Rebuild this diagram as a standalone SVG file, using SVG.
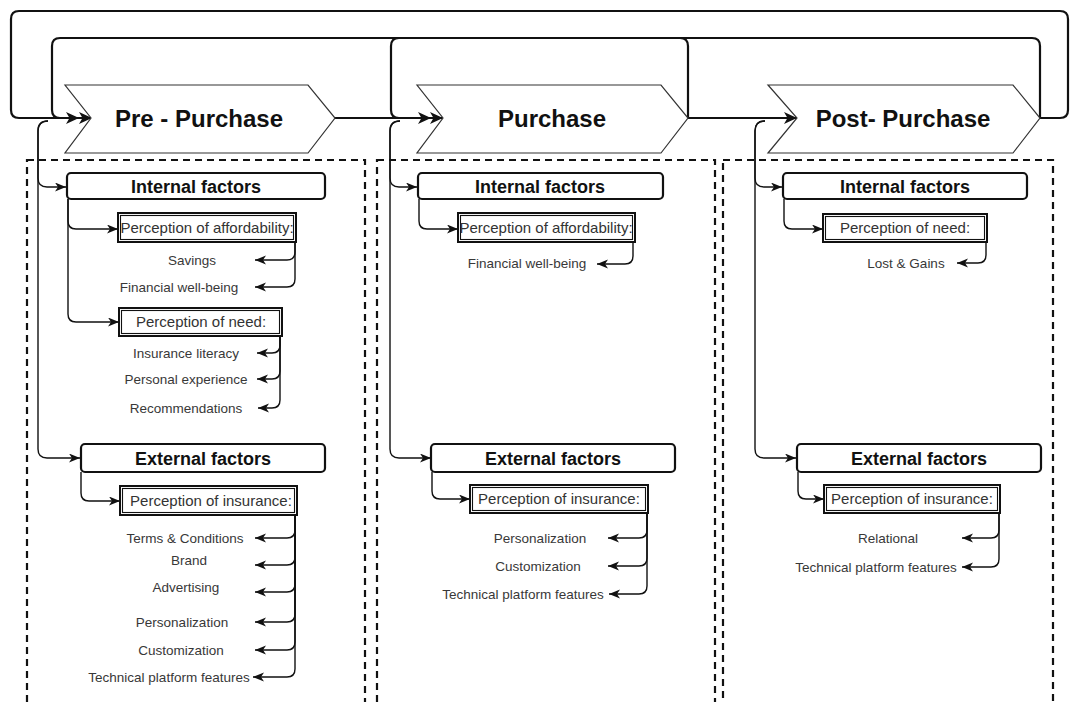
<svg xmlns="http://www.w3.org/2000/svg" width="1073" height="702" viewBox="0 0 1073 702">
<style>
.bg{fill:#fff}
.chev{fill:#fff;stroke:#333;stroke-width:1.2}
.stage{font-family:"Liberation Sans",Arial,sans-serif;font-size:24px;font-weight:bold;fill:#111;text-anchor:middle}
.dash{fill:none;stroke:#111;stroke-width:2.2;stroke-dasharray:7,5}
.hdr{fill:#fff;stroke:#111;stroke-width:2.2}
.hdrt{font-family:"Liberation Sans",Arial,sans-serif;font-size:18px;font-weight:bold;fill:#111;text-anchor:middle}
.pbox{fill:#fff;stroke:#111;stroke-width:2}
.pin{fill:none;stroke:#111;stroke-width:1.1}
.pt{font-family:"Liberation Sans",Arial,sans-serif;font-size:15px;fill:#333;text-anchor:middle}
.lbl{font-family:"Liberation Sans",Arial,sans-serif;font-size:13.5px;fill:#383838;text-anchor:middle}
.loop{fill:none;stroke:#111;stroke-width:2.2}
.con{fill:none;stroke:#111;stroke-width:1.4}
</style>
<defs>
<marker id="big" markerUnits="userSpaceOnUse" markerWidth="14" markerHeight="12" refX="13" refY="6" orient="auto">
<path d="M0,0 L13,6 L0,12 L3.5,6 z" fill="#111"/>
</marker>
<marker id="sm" markerUnits="userSpaceOnUse" markerWidth="12" markerHeight="10" refX="11" refY="4.5" orient="auto">
<path d="M0,0 L11,4.5 L0,9 L3,4.5 z" fill="#111"/>
</marker>
</defs>
<rect class="bg" x="0" y="0" width="1073" height="702"/>

<g id="containers">
<rect class="dash" x="27" y="160" width="338" height="545"/>
<rect class="dash" x="377" y="160" width="338" height="545"/>
<rect class="dash" x="723" y="160" width="330" height="545"/>
</g>

<g id="connectors">
<path class="loop" d="M1040,118 H1060 Q1068,118 1068,110 V19 Q1068,11 1060,11 H19 Q11,11 11,19 V110 Q11,118 19,118 H79" marker-end="url(#big)"/>
<path class="loop" d="M1040,118 V46 Q1040,38 1032,38 H60 Q52,38 52,46 V110 Q52,118 60,118 H92" marker-end="url(#big)"/>
<path class="loop" d="M335,118 H443" marker-end="url(#big)"/>
<path class="loop" d="M688,118 V46 Q688,38 680,38 H399 Q391,38 391,46 V110 Q391,118 399,118 H431" marker-end="url(#big)"/>
<path class="loop" d="M688,118 H797" marker-end="url(#big)"/>

<path class="con" d="M48,121 Q38,121 38,131 V178 Q38,187 47,187 H66" marker-end="url(#sm)"/>
<path class="con" d="M48,121 Q38,121 38,131 V449 Q38,458 47,458 H80" marker-end="url(#sm)"/>
<path class="con" d="M400,121 Q390,121 390,131 V178 Q390,187 399,187 H417" marker-end="url(#sm)"/>
<path class="con" d="M400,121 Q390,121 390,131 V449 Q390,458 399,458 H431" marker-end="url(#sm)"/>
<path class="con" d="M765,121 Q755,121 755,131 V178 Q755,187 764,187 H782" marker-end="url(#sm)"/>
<path class="con" d="M765,121 Q755,121 755,131 V449 Q755,458 764,458 H796" marker-end="url(#sm)"/>

<path class="con" d="M68,199 V221 Q68,229 76,229 H118" marker-end="url(#sm)"/>
<path class="con" d="M68,199 V314 Q68,322 76,322 H119" marker-end="url(#sm)"/>
<path class="con" d="M81,472 V493 Q81,501 89,501 H120" marker-end="url(#sm)"/>
<path class="con" d="M419,199 V221 Q419,229 427,229 H458" marker-end="url(#sm)"/>
<path class="con" d="M432,472 V491 Q432,499 440,499 H470" marker-end="url(#sm)"/>
<path class="con" d="M784,199 V221 Q784,229 792,229 H823" marker-end="url(#sm)"/>
<path class="con" d="M798,472 V491 Q798,499 806,499 H824" marker-end="url(#sm)"/>

<path class="con" d="M295,242 V252 Q295,260 287,260 H255" marker-end="url(#sm)"/>
<path class="con" d="M295,242 V279 Q295,287 287,287 H255" marker-end="url(#sm)"/>
<path class="con" d="M280,336 V345 Q280,353 272,353 H257" marker-end="url(#sm)"/>
<path class="con" d="M280,336 V371 Q280,379 272,379 H257" marker-end="url(#sm)"/>
<path class="con" d="M280,336 V400 Q280,408 272,408 H258" marker-end="url(#sm)"/>

<path class="con" d="M295,515 V530 Q295,538 287,538 H255" marker-end="url(#sm)"/>
<path class="con" d="M295,515 V557 Q295,565 287,565 H255" marker-end="url(#sm)"/>
<path class="con" d="M295,515 V584 Q295,592 287,592 H255" marker-end="url(#sm)"/>
<path class="con" d="M295,515 V614 Q295,622 287,622 H255" marker-end="url(#sm)"/>
<path class="con" d="M295,515 V642 Q295,650 287,650 H255" marker-end="url(#sm)"/>
<path class="con" d="M295,515 V669 Q295,677 287,677 H253" marker-end="url(#sm)"/>

<path class="con" d="M633,242 V256 Q633,264 625,264 H597" marker-end="url(#sm)"/>
<path class="con" d="M647,513 V530 Q647,538 639,538 H608" marker-end="url(#sm)"/>
<path class="con" d="M647,513 V558 Q647,566 639,566 H608" marker-end="url(#sm)"/>
<path class="con" d="M647,513 V586 Q647,594 639,594 H609" marker-end="url(#sm)"/>

<path class="con" d="M986,242 V255 Q986,263 978,263 H957" marker-end="url(#sm)"/>
<path class="con" d="M999,513 V530 Q999,538 991,538 H962" marker-end="url(#sm)"/>
<path class="con" d="M999,513 V559 Q999,567 991,567 H962" marker-end="url(#sm)"/>
</g>

<g id="stage-pre">
<polygon class="chev" points="65,85 308,85 335,118 308,153 65,153 91,118"/>
<text class="stage" x="199" y="127">Pre - Purchase</text>
</g>
<g id="stage-purchase">
<polygon class="chev" points="417,85 661,85 688,118 661,153 417,153 443,118"/>
<text class="stage" x="552" y="127">Purchase</text>
</g>
<g id="stage-post">
<polygon class="chev" points="768,85 1013,85 1040,118 1013,153 768,153 797,118"/>
<text class="stage" x="903" y="127">Post- Purchase</text>
</g>

<g id="pre-internal">
<rect class="hdr" x="67" y="173" width="258" height="26" rx="4"/>
<text class="hdrt" x="196" y="193">Internal factors</text>
</g>
<g id="pre-afford">
<rect class="pbox" x="118" y="213" width="178" height="29"/>
<rect class="pin" x="120.5" y="215.5" width="173" height="24"/>
<text class="pt" x="207" y="233">Perception of affordability:</text>
</g>
<g id="pre-afford-items">
<text class="lbl" x="192" y="265">Savings</text>
<text class="lbl" x="179" y="292">Financial well-being</text>
</g>
<g id="pre-need">
<rect class="pbox" x="119" y="308" width="163" height="28"/>
<rect class="pin" x="121.5" y="310.5" width="158" height="23"/>
<text class="pt" x="201" y="327">Perception of need:</text>
</g>
<g id="pre-need-items">
<text class="lbl" x="186" y="358">Insurance literacy</text>
<text class="lbl" x="186" y="384">Personal experience</text>
<text class="lbl" x="186" y="413">Recommendations</text>
</g>
<g id="pre-external">
<rect class="hdr" x="81" y="444" width="244" height="28" rx="4"/>
<text class="hdrt" x="203" y="465">External factors</text>
</g>
<g id="pre-insurance">
<rect class="pbox" x="120" y="486" width="177" height="29"/>
<rect class="pin" x="122.5" y="488.5" width="172" height="24"/>
<text class="pt" x="211" y="506">Perception of insurance:</text>
</g>
<g id="pre-insurance-items">
<text class="lbl" x="185" y="543">Terms &amp; Conditions</text>
<text class="lbl" x="189" y="565">Brand</text>
<text class="lbl" x="186" y="592">Advertising</text>
<text class="lbl" x="182" y="627">Personalization</text>
<text class="lbl" x="181" y="655">Customization</text>
<text class="lbl" x="169" y="682">Technical platform features</text>
</g>

<g id="pur-internal">
<rect class="hdr" x="418" y="173" width="245" height="26" rx="4"/>
<text class="hdrt" x="540" y="193">Internal factors</text>
</g>
<g id="pur-afford">
<rect class="pbox" x="458" y="213" width="177" height="29"/>
<rect class="pin" x="460.5" y="215.5" width="172" height="24"/>
<text class="pt" x="546" y="233">Perception of affordability:</text>
</g>
<g id="pur-afford-items">
<text class="lbl" x="527" y="268">Financial well-being</text>
</g>
<g id="pur-external">
<rect class="hdr" x="431" y="444" width="244" height="28" rx="4"/>
<text class="hdrt" x="553" y="465">External factors</text>
</g>
<g id="pur-insurance">
<rect class="pbox" x="470" y="485" width="178" height="28"/>
<rect class="pin" x="472.5" y="487.5" width="173" height="23"/>
<text class="pt" x="559" y="504">Perception of insurance:</text>
</g>
<g id="pur-insurance-items">
<text class="lbl" x="540" y="543">Personalization</text>
<text class="lbl" x="538" y="571">Customization</text>
<text class="lbl" x="523" y="599">Technical platform features</text>
</g>

<g id="post-internal">
<rect class="hdr" x="783" y="173" width="244" height="26" rx="4"/>
<text class="hdrt" x="905" y="193">Internal factors</text>
</g>
<g id="post-need">
<rect class="pbox" x="823" y="214" width="164" height="28"/>
<rect class="pin" x="825.5" y="216.5" width="159" height="23"/>
<text class="pt" x="905" y="233">Perception of need:</text>
</g>
<g id="post-need-items">
<text class="lbl" x="906" y="268">Lost &amp; Gains</text>
</g>
<g id="post-external">
<rect class="hdr" x="797" y="444" width="244" height="28" rx="4"/>
<text class="hdrt" x="919" y="465">External factors</text>
</g>
<g id="post-insurance">
<rect class="pbox" x="824" y="485" width="176" height="28"/>
<rect class="pin" x="826.5" y="487.5" width="171" height="23"/>
<text class="pt" x="912" y="504">Perception of insurance:</text>
</g>
<g id="post-insurance-items">
<text class="lbl" x="888" y="543">Relational</text>
<text class="lbl" x="876" y="572">Technical platform features</text>
</g>
</svg>
